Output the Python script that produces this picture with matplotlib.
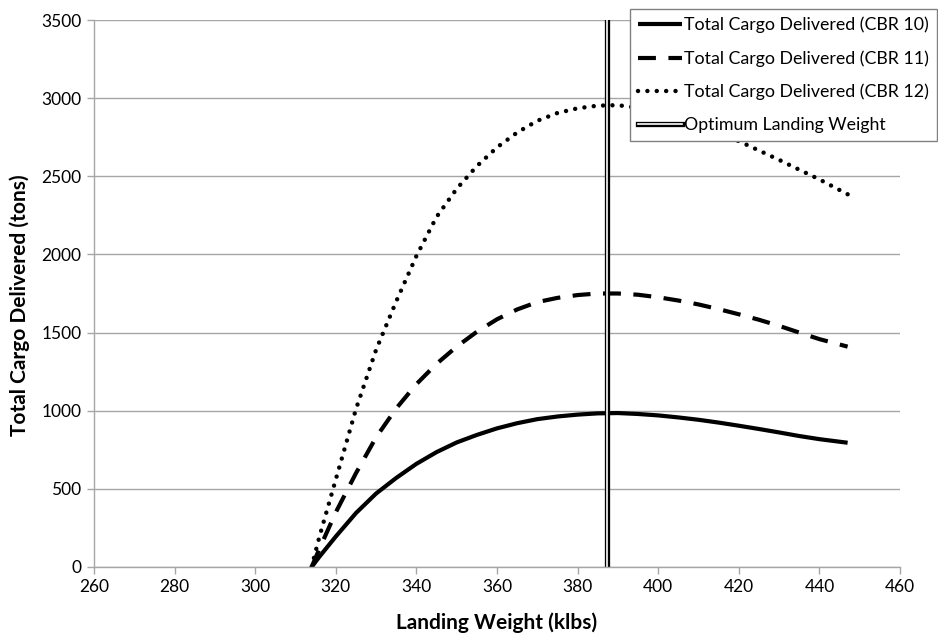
import numpy as np
from matplotlib import pyplot as plt
import matplotlib.patheffects as pe

# landing weight (klbs) and total cargo delivered (tons) for each CBR
weight = [314, 316, 320, 325, 330, 335, 340, 345, 350, 355, 360, 365, 370, 375,
          380, 385, 390, 395, 400, 405, 410, 415, 420, 425, 430, 435, 440, 447]
cbr10 = [0, 68, 195, 345, 470, 570, 660, 735, 797, 845, 887, 920, 946, 963,
         975, 983, 985, 979, 970, 957, 942, 924, 904, 883, 861, 838, 818, 795]
cbr11 = [0, 120, 350, 600, 830, 1015, 1170, 1300, 1410, 1505, 1585, 1648, 1695, 1722,
         1740, 1750, 1750, 1742, 1726, 1705, 1680, 1650, 1617, 1582, 1543, 1500, 1458, 1410]
cbr12 = [0, 200, 560, 1010, 1390, 1700, 1990, 2240, 2420, 2565, 2685, 2780, 2855, 2905,
         2935, 2952, 2955, 2938, 2910, 2872, 2826, 2775, 2725, 2665, 2605, 2542, 2480, 2385]
optimum_weight = 387.4

labels = ["Total Cargo Delivered (CBR 10)",
          "Total Cargo Delivered (CBR 11)",
          "Total Cargo Delivered (CBR 12)",
          "Optimum Landing Weight"]

plt.rcParams['font.family'] = ['Lato', 'DejaVu Sans']

fig = plt.figure(figsize=(9.38, 6.37), dpi=100)
ax = fig.add_axes([0.1002, 0.1099, 0.8593, 0.8587])

ax.plot(weight, cbr10, color='black', lw=3, solid_capstyle='butt', label=labels[0])
ax.plot(weight, cbr11, color='black', lw=3, linestyle=(0, (4.3, 3.0)),
        dash_capstyle='butt', label=labels[1])
ax.plot(weight, cbr12, color='black', lw=3.2, linestyle=(0, (0.01, 2.1)),
        dash_capstyle='round', label=labels[2])
ax.axvline(optimum_weight, color='white', lw=1.2, label=labels[3],
           path_effects=[pe.Stroke(linewidth=3.8, foreground='black'), pe.Normal()])

ax.set_xlim(260, 460)
ax.set_ylim(0, 3500)
ax.set_xticks(np.arange(260, 461, 20))
ax.set_yticks(np.arange(0, 3501, 500))
ax.yaxis.grid(True, color='#a6a6a6', lw=1)
ax.set_axisbelow(True)

for side in ['top', 'right']:
    ax.spines[side].set_visible(False)
for side in ['left', 'bottom']:
    ax.spines[side].set_color('#a6a6a6')
    ax.spines[side].set_linewidth(1)
ax.tick_params(axis='both', direction='out', length=5, width=1, color='#a6a6a6',
               labelsize=12.5, labelcolor='black', pad=4)

ax.set_xlabel("Landing Weight (klbs)", fontsize=15, fontweight='bold', labelpad=12)
ax.set_ylabel("Total Cargo Delivered (tons)", fontsize=15, fontweight='bold')
ax.yaxis.set_label_coords(-0.079, 0.479)

leg = ax.legend(loc='upper right', bbox_to_anchor=(0.999, 0.986),
                bbox_transform=fig.transFigure, fontsize=12.8, frameon=True,
                fancybox=False, edgecolor='#808080', framealpha=1,
                handlelength=2.5, handletextpad=0.1, borderpad=0.45,
                labelspacing=0.95, borderaxespad=0)
leg.get_frame().set_linewidth(1)

plt.savefig("out.png", dpi=100)
plt.close()
